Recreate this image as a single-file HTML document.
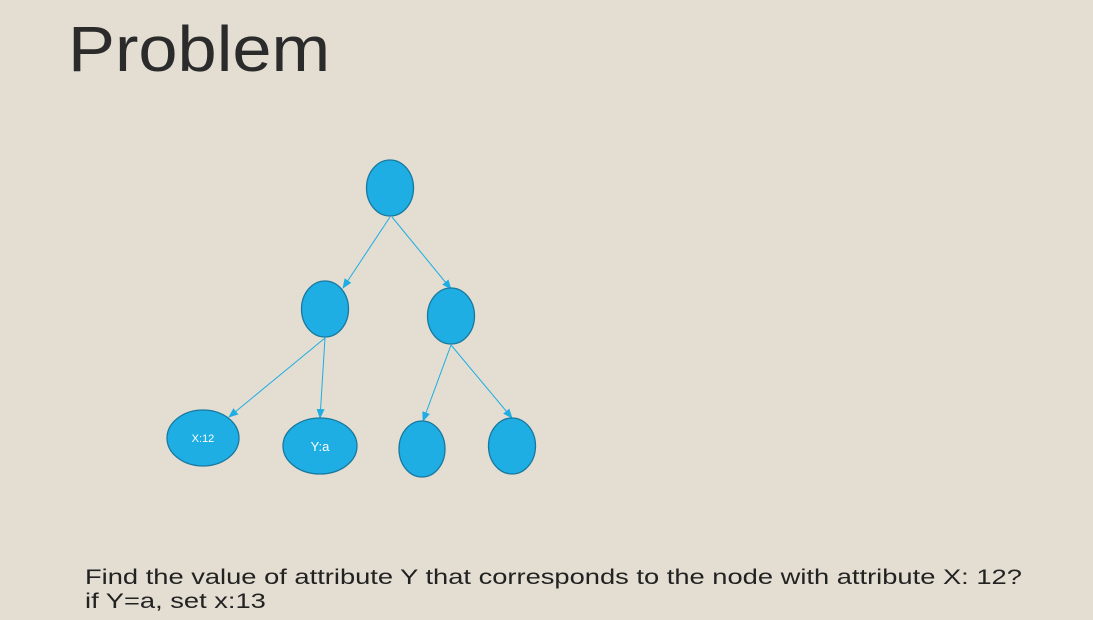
<!DOCTYPE html>
<html><head><style>
body{margin:0;width:1093px;height:620px;background:#e3ddd2;overflow:hidden;position:relative;font-family:"Liberation Sans",sans-serif}
.t{position:absolute;left:68px;top:12px;font-size:64px;color:#2b2b2b;transform:scaleX(1.1);transform-origin:left top}
.b{position:absolute;left:85px;top:566px;font-size:21px;line-height:24px;color:#222;transform:scaleX(1.3);transform-origin:left top;white-space:nowrap}
</style></head><body>
<div class="t">Problem</div>
<svg width="1093" height="620" style="position:absolute;left:0;top:0">
<defs><marker id="a" markerWidth="10" markerHeight="8" refX="9" refY="4" orient="auto" markerUnits="userSpaceOnUse"><path d="M0,0L10,4L0,8z" fill="#1eaee3"/></marker></defs>
<g stroke="#1eaee3" stroke-width="1" marker-end="url(#a)">
<line x1="390" y1="217" x2="343" y2="288"/>
<line x1="392" y1="217" x2="451" y2="289"/>
<line x1="325" y1="338" x2="229" y2="417"/>
<line x1="325" y1="338" x2="320" y2="418"/>
<line x1="451" y1="345" x2="423" y2="421"/>
<line x1="451" y1="345" x2="512" y2="418"/>
</g>
<g fill="#1eaee3" stroke="#18799f" stroke-width="1.3">
<ellipse cx="390" cy="188" rx="23.5" ry="28"/>
<ellipse cx="325" cy="309" rx="23.5" ry="28"/>
<ellipse cx="451" cy="316" rx="23.5" ry="28"/>
<ellipse cx="203" cy="438" rx="36" ry="28"/>
<ellipse cx="320" cy="446" rx="37" ry="28"/>
<ellipse cx="422" cy="449" rx="23" ry="28"/>
<ellipse cx="512" cy="446" rx="23.5" ry="28"/>
</g>
<text x="203" y="442" font-size="11" fill="#fff" text-anchor="middle" font-family="Liberation Sans">X:12</text>
<text x="320" y="451" font-size="13" fill="#fff" text-anchor="middle" font-family="Liberation Sans">Y:a</text>
</svg>
<div class="b">Find the value of attribute Y that corresponds to the node with attribute X: 12?<br>if Y=a, set x:13</div>
</body></html>
